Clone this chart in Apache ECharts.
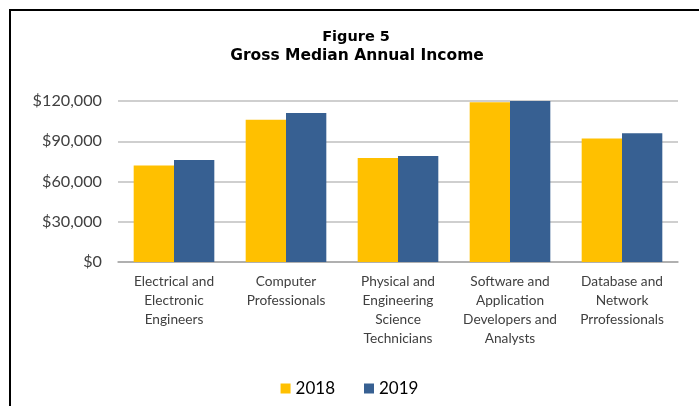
<!DOCTYPE html>
<html>
<head>
<meta charset="utf-8">
<script src="https://cdn.jsdelivr.net/npm/echarts@6/dist/echarts.min.js"></script>
<style>
html,body{margin:0;padding:0;background:#fff;}
#chart{width:699px;height:406px;}
</style>
</head>
<body>
<div id="chart"></div>
<script>
var categories = [
  "Electrical and\nElectronic\nEngineers",
  "Computer\nProfessionals",
  "Physical and\nEngineering\nScience\nTechnicians",
  "Software and\nApplication\nDevelopers and\nAnalysts",
  "Database and\nNetwork\nPrrofessionals"
];
var values2018 = [72000, 106000, 77500, 119000, 92000];
var values2019 = [76000, 111000, 79000, 120000, 96000];
var yTicks = [0, 30000, 60000, 90000, 120000];

var chart = echarts.init(document.getElementById('chart'), null, {renderer: 'canvas'});
var labelFont = 'Lato, "Open Sans", sans-serif';
var titleFont = '"DejaVu Sans", sans-serif';
chart.setOption({
  animation: false,
  backgroundColor: '#ffffff',
  title: [{
    text: 'Figure 5',
    left: 356,
    textAlign: 'center',
    top: 28,
    padding: 0,
    textStyle: {
      fontFamily: titleFont,
      fontWeight: 'bold',
      fontSize: 14.5,
      lineHeight: 18,
      color: '#000000'
    }
  }, {
    text: 'Gross Median Annual Income',
    left: 357,
    textAlign: 'center',
    top: 47,
    padding: 0,
    textStyle: {
      fontFamily: titleFont,
      fontWeight: 'bold',
      fontSize: 15.5,
      lineHeight: 18,
      color: '#000000'
    }
  }],
  graphic: [{
    type: 'polyline',
    shape: {points: [[10, 406], [10, 10], [699, 10]]},
    style: {stroke: '#000000', lineWidth: 2, fill: null},
    silent: true
  }],
  legend: {
    data: ['2018', '2019'],
    bottom: 4,
    left: 'center',
    icon: 'rect',
    itemWidth: 10,
    itemHeight: 10,
    itemGap: 29,
    textStyle: {fontFamily: labelFont, fontSize: 17, color: '#000000'}
  },
  grid: {left: 118, right: 21, top: 101, bottom: 144},
  xAxis: {
    type: 'category',
    data: categories,
    axisTick: {show: false},
    axisLine: {lineStyle: {color: '#a6a6a6', width: 1.5}},
    axisLabel: {
      interval: 0,
      margin: 10,
      fontFamily: labelFont,
      fontSize: 13.7,
      lineHeight: 19,
      color: '#404040'
    }
  },
  yAxis: {
    type: 'value',
    min: yTicks[0],
    max: yTicks[yTicks.length - 1],
    interval: yTicks[1] - yTicks[0],
    axisLine: {show: false},
    axisTick: {show: false},
    splitLine: {lineStyle: {color: '#bfbfbf', width: 1.5}},
    axisLabel: {
      margin: 16,
      fontFamily: labelFont,
      fontSize: 16.2,
      color: '#404040',
      formatter: function (v) { return '$' + v.toLocaleString('en-US'); }
    }
  },
  series: [
    {
      name: '2018',
      type: 'bar',
      data: values2018,
      barGap: '0%',
      barCategoryGap: '28%',
      itemStyle: {color: '#FFC000'}
    },
    {
      name: '2019',
      type: 'bar',
      data: values2019,
      barGap: '0%',
      barCategoryGap: '28%',
      itemStyle: {color: '#376092'}
    }
  ]
});
</script>
</body>
</html>
